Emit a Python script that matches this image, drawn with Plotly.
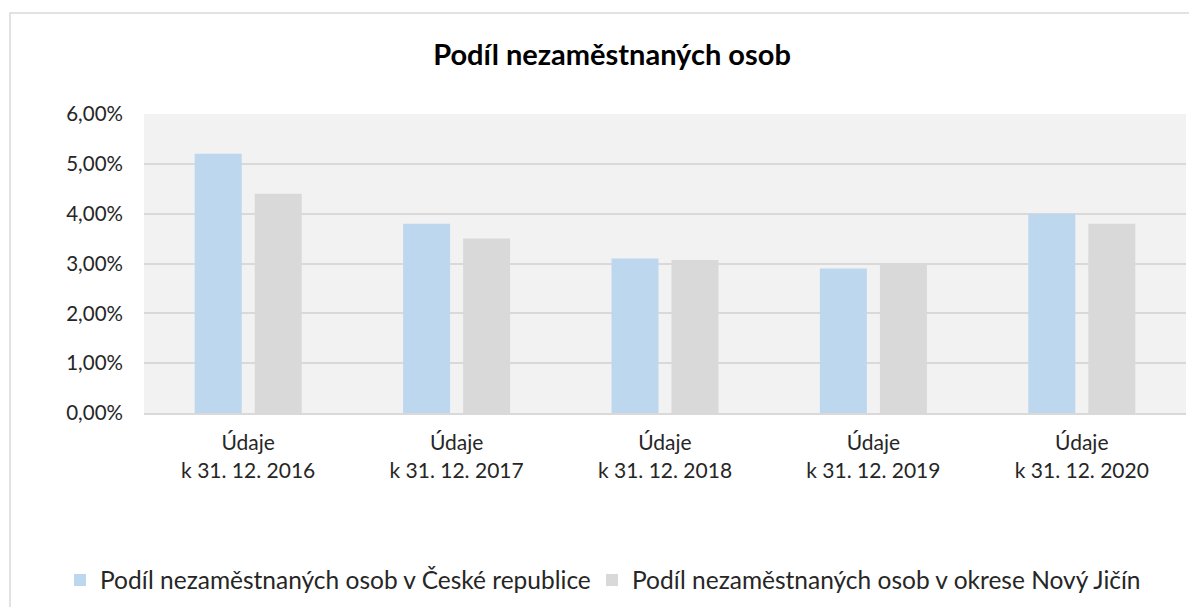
import plotly.graph_objects as go

categories = ["Údaje<br>k 31. 12. 2016", "Údaje<br>k 31. 12. 2017", "Údaje<br>k 31. 12. 2018",
              "Údaje<br>k 31. 12. 2019", "Údaje<br>k 31. 12. 2020"]
series_cr_name = "Podíl nezaměstnaných osob v České republice"
series_nj_name = "Podíl nezaměstnaných osob v okrese Nový Jičín"
series_cr = [0.052, 0.038, 0.031, 0.029, 0.040]
series_nj = [0.044, 0.035, 0.0307, 0.0298, 0.038]
y_ticks = [0, 0.01, 0.02, 0.03, 0.04, 0.05, 0.06]

FONT = "Lato"
TXT = "#262626"
fig = go.Figure()
fig.add_trace(go.Bar(name=series_cr_name, x=categories, y=series_cr, legend="legend",
                     showlegend=True,
                     marker=dict(color="#BDD7EE", line=dict(width=0))))
fig.add_trace(go.Bar(name=series_nj_name, x=categories, y=series_nj, legend="legend2",
                     showlegend=True,
                     marker=dict(color="#D9D9D9", line=dict(width=0))))

# page body has an 8px offset; coordinates below are figure coordinates
L, T, R, B = 136, 106, 1178, 405
W, H = 1197, 607
leg_common = dict(orientation="h", xref="container", xanchor="left",
                  yref="container", y=(H - 572) / H, yanchor="middle",
                  font=dict(family=FONT, size=24.5, color=TXT),
                  itemwidth=30, bgcolor="rgba(0,0,0,0)", visible=True)
fig.update_layout(
    width=W, height=H,
    showlegend=True,
    margin=dict(l=L, r=W - R, t=T, b=H - B),
    paper_bgcolor="white", plot_bgcolor="#F2F2F2",
    separators=", ",
    barmode="group", bargap=0.424, bargroupgap=0.217,
    font=dict(family=FONT, size=20, color=TXT),
    title=dict(text="<b>Podíl nezaměstnaných osob</b>", x=604 / W, xanchor="center",
               xref="container", y=1 - 47 / H, yanchor="middle", yref="container",
               font=dict(family=FONT, size=29, color="#000000")),
    legend=dict(x=52 / W, **leg_common),
    legend2=dict(x=584 / W, **leg_common),
    xaxis=dict(showgrid=False, showline=True, linecolor="#D9D9D9", linewidth=2,
               tickfont=dict(family=FONT, size=21, color=TXT),
               ticklabelstandoff=10, fixedrange=True),
    yaxis=dict(range=[0, 0.06], tickvals=y_ticks, tickformat=".2%",
               showgrid=True, gridcolor="#D9D9D9", gridwidth=1.5, zeroline=False,
               tickfont=dict(family=FONT, size=20.5, color=TXT),
               ticklabelstandoff=20, fixedrange=True),
    shapes=[dict(type="rect", xref="paper", yref="paper",
                 x0=(2 - L) / (R - L), x1=(1210 - L) / (R - L),
                 y0=-0.8, y1=(B - 5) / (B - T),
                 line=dict(color="#D9D9D9", width=1.5), fillcolor="rgba(0,0,0,0)",
                 layer="below")],
)

fig.write_html("out.html")
